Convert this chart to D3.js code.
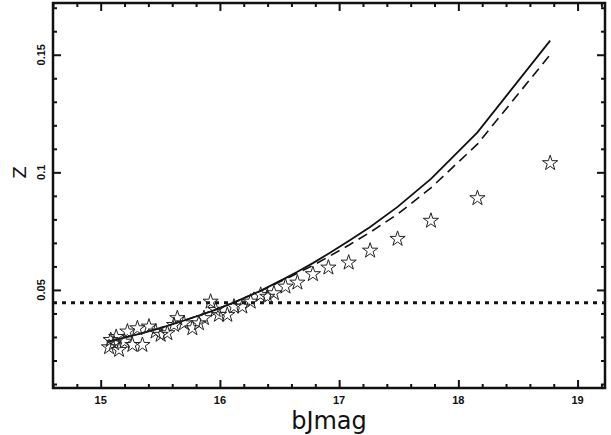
<!DOCTYPE html>
<html>
<head>
<meta charset="utf-8">
<script src="https://cdn.jsdelivr.net/npm/d3@7"></script>
<style>
  body { margin: 0; background: #fff; }
  .tick-label { font-family: "Liberation Sans", Arial, sans-serif; font-weight: bold; font-size: 11px; fill: #111; }
  .axis-title { font-family: "DejaVu Sans", sans-serif; fill: #111; }
</style>
</head>
<body>
<div class="container"></div>
<script>
const w = 611;
const h = 435;

// stars: observed Z vs bJ magnitude
const starMag = [15.07, 15.084, 15.112, 15.154, 15.13, 15.2, 15.224, 15.266, 15.308, 15.35,
  15.405, 15.461, 15.503, 15.559, 15.615, 15.643, 15.699, 15.769, 15.824, 15.866,
  15.922, 15.964, 15.992, 16.062, 16.118, 16.188, 16.258, 16.342, 16.398, 16.453,
  16.55, 16.65, 16.78, 16.91, 17.08, 17.26, 17.49, 17.77, 18.16, 18.77];
const starZ = [0.0256, 0.0287, 0.0273, 0.0245, 0.0300, 0.0280, 0.0323, 0.0266, 0.0337, 0.0266,
  0.0344, 0.0323, 0.0309, 0.0316, 0.0351, 0.0380, 0.0358, 0.0337, 0.0358, 0.0380,
  0.0450, 0.0415, 0.0394, 0.0394, 0.0429, 0.0429, 0.0450, 0.0479, 0.0471, 0.0486,
  0.0514, 0.0531, 0.0567, 0.0595, 0.0616, 0.0667, 0.0717, 0.0794, 0.0890, 0.1039];

// model curves
const curveMag = [15.06, 15.3, 15.5, 15.7, 15.92, 16.1, 16.34, 16.55, 16.65, 16.78,
  16.91, 17.08, 17.26, 17.49, 17.77, 18.16, 18.77];
const solidZ = [0.0280, 0.0310, 0.0338, 0.0370, 0.0408, 0.0443, 0.0496, 0.0550, 0.0577, 0.0614,
  0.0654, 0.0708, 0.0768, 0.0853, 0.0972, 0.1170, 0.1560];
const dashZ = [0.0280, 0.0310, 0.0338, 0.0370, 0.0408, 0.0443, 0.0495, 0.0546, 0.0571, 0.0604,
  0.0641, 0.0690, 0.0745, 0.0822, 0.0934, 0.1120, 0.1500];

const cutZ = 0.0445;

const xMajor = [15, 16, 17, 18, 19];
const yMajor = [0.05, 0.1, 0.15];
const yLabels = ["0.05", "0.1", "0.15"];

const plot = { left: 53, right: 605, top: 3, bottom: 388 };

const x = d3.scaleLinear().domain([14.6, 19.23]).range([plot.left, plot.right]);
const y = d3.scaleLinear().domain([0.0083, 0.172]).range([plot.bottom, plot.top]);

const xMinor = d3.range(14.6, 19.24, 0.2).map(v => +v.toFixed(1)).filter(v => !xMajor.includes(v));
const yMinor = d3.range(0.01, 0.1725, 0.01).map(v => +v.toFixed(2)).filter(v => !yMajor.includes(v));

const svg = d3.select('.container').append('svg')
    .attr('width', w)
    .attr('height', h);

// ticks on all four sides, pointing inwards
function ticks(gen, vals, size, tr) {
  svg.append('g')
      .attr('transform', tr)
      .call(gen.tickValues(vals).tickSize(size).tickFormat(''))
      .call(g => g.select('.domain').remove())
      .call(g => g.selectAll('line').attr('stroke', '#111').attr('stroke-width', 2));
}
ticks(d3.axisBottom(x), xMajor, -8, `translate(0,${plot.bottom})`);
ticks(d3.axisBottom(x), xMinor, -4, `translate(0,${plot.bottom})`);
ticks(d3.axisTop(x), xMajor, -8, `translate(0,${plot.top})`);
ticks(d3.axisTop(x), xMinor, -4, `translate(0,${plot.top})`);
ticks(d3.axisLeft(y), yMajor, -8, `translate(${plot.left},0)`);
ticks(d3.axisLeft(y), yMinor, -4, `translate(${plot.left},0)`);
ticks(d3.axisRight(y), yMajor, -8, `translate(${plot.right},0)`);
ticks(d3.axisRight(y), yMinor, -4, `translate(${plot.right},0)`);

// tick labels
svg.append('g').selectAll('text')
    .data(xMajor)
    .join('text')
      .classed('tick-label', true)
      .attr('x', d => x(d))
      .attr('y', 404)
      .attr('text-anchor', 'middle')
      .text(d => d);

svg.append('g').selectAll('text')
    .data(yMajor)
    .join('text')
      .classed('tick-label', true)
      .attr('transform', d => `translate(45,${y(d)}) rotate(-90)`)
      .attr('text-anchor', 'middle')
      .text((d, i) => yLabels[i]);

// dotted cut line
svg.append('line')
    .attr('x1', plot.left)
    .attr('x2', plot.right)
    .attr('y1', y(cutZ))
    .attr('y2', y(cutZ))
    .attr('stroke', '#111')
    .attr('stroke-width', 3)
    .attr('stroke-dasharray', '4,5');

const line = d3.line().x(d => x(d[0])).y(d => y(d[1]));

svg.append('path')
    .datum(d3.zip(curveMag, dashZ))
    .attr('d', line)
    .attr('fill', 'none')
    .attr('stroke', '#111')
    .attr('stroke-width', 1.6)
    .attr('stroke-dasharray', '10,6');

svg.append('path')
    .datum(d3.zip(curveMag, solidZ))
    .attr('d', line)
    .attr('fill', 'none')
    .attr('stroke', '#111')
    .attr('stroke-width', 1.8);

const star = d3.symbol().type(d3.symbolStar).size(72);
svg.append('g').selectAll('path')
    .data(d3.zip(starMag, starZ))
    .join('path')
      .attr('transform', d => `translate(${x(d[0])},${y(d[1])})`)
      .attr('d', star)
      .attr('fill', 'none')
      .attr('stroke', '#222')
      .attr('stroke-width', 1);

// frame
svg.append('rect')
    .attr('x', plot.left)
    .attr('y', plot.top)
    .attr('width', plot.right - plot.left)
    .attr('height', plot.bottom - plot.top)
    .attr('fill', 'none')
    .attr('stroke', '#111')
    .attr('stroke-width', 2.5);

// axis titles
svg.append('text')
    .classed('axis-title', true)
    .attr('x', (plot.left + plot.right) / 2)
    .attr('y', 429)
    .attr('text-anchor', 'middle')
    .style('font-size', '24px')
    .text('bJmag');

svg.append('text')
    .classed('axis-title', true)
    .attr('transform', `translate(26,${y(0.1)}) rotate(-90)`)
    .attr('text-anchor', 'middle')
    .style('font-size', '18px')
    .text('Z');
</script>
</body>
</html>
